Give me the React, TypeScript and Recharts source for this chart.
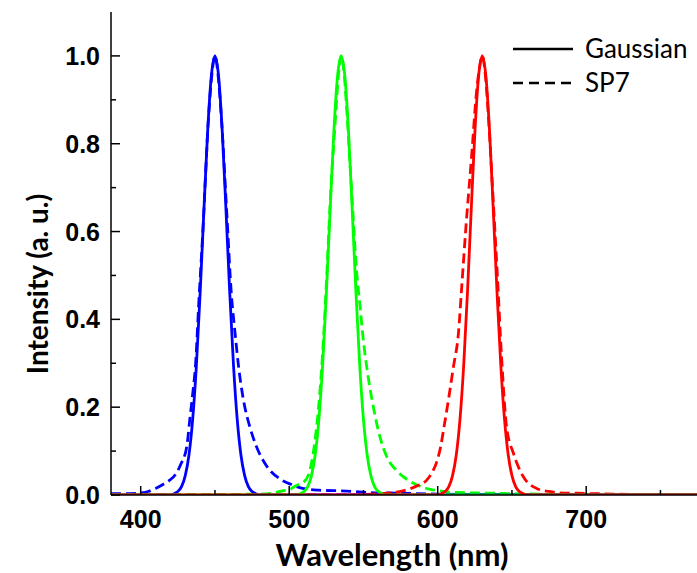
import React from "react";
import { LineChart, Line, XAxis, YAxis, Legend } from "recharts";

// wavelength (nm), intensity (a. u.) pairs
const blueGaussian: [number, number][] = [
  [380, 0], [420, 0], [422.5, 0.003], [425, 0.008], [427.5, 0.019], [430, 0.044],
  [432.5, 0.091], [435, 0.172], [437.5, 0.295], [440, 0.458], [442.5, 0.644],
  [445, 0.823], [447.5, 0.952], [450, 1], [452.5, 0.952], [455, 0.823],
  [457.5, 0.644], [460, 0.458], [462.5, 0.295], [465, 0.172], [467.5, 0.091],
  [470, 0.044], [472.5, 0.019], [475, 0.008], [477.5, 0.003], [480, 0], [780, 0],
];
const greenGaussian: [number, number][] = [
  [380, 0], [505, 0], [507.5, 0.003], [510, 0.008], [512.5, 0.019], [515, 0.044],
  [517.5, 0.091], [520, 0.172], [522.5, 0.295], [525, 0.458], [527.5, 0.644],
  [530, 0.823], [532.5, 0.952], [535, 1], [537.5, 0.952], [540, 0.823],
  [542.5, 0.644], [545, 0.458], [547.5, 0.295], [550, 0.172], [552.5, 0.091],
  [555, 0.044], [557.5, 0.019], [560, 0.008], [562.5, 0.003], [565, 0], [780, 0],
];
const redGaussian: [number, number][] = [
  [380, 0], [600, 0], [602.5, 0.003], [605, 0.008], [607.5, 0.019], [610, 0.044],
  [612.5, 0.091], [615, 0.172], [617.5, 0.295], [620, 0.458], [622.5, 0.644],
  [625, 0.823], [627.5, 0.952], [630, 1], [632.5, 0.952], [635, 0.823],
  [637.5, 0.644], [640, 0.458], [642.5, 0.295], [645, 0.172], [647.5, 0.091],
  [650, 0.044], [652.5, 0.019], [655, 0.008], [657.5, 0.003], [660, 0], [780, 0],
];

const blueSP7: [number, number][] = [
  [380, 0.003], [390, 0.003], [400, 0.005], [405, 0.008], [410, 0.015], [415, 0.024],
  [420, 0.035], [423, 0.045], [427, 0.07], [431, 0.11], [433, 0.17], [435, 0.23],
  [437, 0.3], [439, 0.43], [442, 0.61], [445.5, 0.85], [448, 0.96], [450, 1],
  [452, 0.96], [454.5, 0.85], [458, 0.64], [461, 0.46], [463.5, 0.37], [466, 0.29],
  [469, 0.22], [473.5, 0.155], [478, 0.11], [485, 0.065], [494, 0.036], [502, 0.023],
  [509, 0.015], [520, 0.011], [539, 0.009], [552, 0.006], [575, 0.004], [600, 0.002],
  [650, 0.001], [700, 0], [780, 0],
];
const greenSP7: [number, number][] = [
  [380, 0], [480, 0.002], [490, 0.005], [496, 0.01], [500, 0.012], [504, 0.02],
  [507, 0.025], [510, 0.03], [514, 0.057], [517.4, 0.125], [520.8, 0.24], [523, 0.35],
  [525.3, 0.5], [527.5, 0.66], [531, 0.85], [533, 0.95], [535, 1], [537, 0.96],
  [538.7, 0.88], [542, 0.695], [545.5, 0.505], [547.7, 0.43], [550, 0.35],
  [552.7, 0.28], [555.6, 0.22], [561.3, 0.13], [566, 0.085], [572, 0.057], [580, 0.034],
  [586, 0.023], [595, 0.013], [600, 0.01], [610, 0.006], [640, 0.004], [680, 0.001],
  [700, 0], [780, 0],
];
const redSP7: [number, number][] = [
  [380, 0], [540, 0], [560, 0.003], [575, 0.008], [582, 0.015], [587, 0.022],
  [592.6, 0.034], [596, 0.05], [599.3, 0.075], [602, 0.11], [604, 0.15], [607.2, 0.216],
  [610.5, 0.29], [614, 0.37], [616.1, 0.47], [619, 0.61], [622.8, 0.77], [626.2, 0.92],
  [628, 0.97], [630, 1], [632, 0.96], [634, 0.87], [637.4, 0.67], [640.1, 0.505],
  [643, 0.315], [646.4, 0.155], [651, 0.095], [657.6, 0.042], [666.6, 0.015],
  [675, 0.008], [682, 0.005], [694, 0.004], [720, 0.002], [750, 0], [780, 0],
];

const X_DOMAIN: [number, number] = [380, 780];
const Y_DOMAIN: [number, number] = [0, 1.1];
const X_TICKS = [400, 450, 500, 550, 600, 650, 700, 750];
const Y_TICKS = [0, 0.1, 0.2, 0.3, 0.4, 0.5, 0.6, 0.7, 0.8, 0.9, 1.0];

const BLUE = "#0000ff";
const GREEN = "#00ff00";
const RED = "#ff0000";
const DASH = "10 5";

const TICK_FONT = "'Liberation Sans', Arial, sans-serif";
const TITLE_FONT = "Lato, 'Open Sans', sans-serif";

const toRows = (pts: [number, number][]) => pts.map(([wl, v]) => ({ wl, v }));

const isMajorX = (v: number) => v % 100 === 0;
const isMajorY = (v: number) => Math.round(v * 10) % 2 === 0;

function XTick(props: any) {
  const { x, y, payload, top } = props;
  const major = isMajorX(payload.value);
  const len = major ? 9 : 5;
  return (
    <g>
      <line x1={x} x2={x} y1={y} y2={top ? y + len : y - len} stroke="#000" strokeWidth={1.5} />
      {!top && major && (
        <text x={x} y={y + 33} textAnchor="middle" fontFamily={TICK_FONT} fontWeight="bold" fontSize={25} fill="#000">
          {payload.value}
        </text>
      )}
    </g>
  );
}

function YTick(props: any) {
  const { x, y, payload, right } = props;
  const major = isMajorY(payload.value);
  const len = major ? 9 : 5;
  return (
    <g>
      <line x1={x} x2={right ? x - len : x + len} y1={y} y2={y} stroke="#000" strokeWidth={1.5} />
      {!right && major && (
        <text x={x - 11} y={y + 9} textAnchor="end" fontFamily={TICK_FONT} fontWeight="bold" fontSize={25} fill="#000">
          {Number(payload.value).toFixed(1)}
        </text>
      )}
    </g>
  );
}

function LegendBox() {
  return (
    <svg width={697} height={110} style={{ display: "block" }}>
      <line x1={513} x2={573} y1={49} y2={49} stroke="#000" strokeWidth={2.5} />
      <text x={585} y={58} fontFamily={TITLE_FONT} fontSize={26} fill="#000">Gaussian</text>
      <line x1={513} x2={573} y1={83} y2={83} stroke="#000" strokeWidth={2.5} strokeDasharray="10 6" />
      <text x={585} y={92} fontFamily={TITLE_FONT} fontSize={26} fill="#000">SP7</text>
    </svg>
  );
}

const series = [
  { key: "bSP7", data: blueSP7, color: BLUE, dashed: true },
  { key: "gSP7", data: greenSP7, color: GREEN, dashed: true },
  { key: "rSP7", data: redSP7, color: RED, dashed: true },
  { key: "bG", data: blueGaussian, color: BLUE, dashed: false },
  { key: "gG", data: greenGaussian, color: GREEN, dashed: false },
  { key: "rG", data: redGaussian, color: RED, dashed: false },
];

export default function App() {
  return (
    <div
      style={{
        position: "fixed",
        left: 0,
        top: 0,
        width: 697,
        height: 573,
        overflow: "hidden",
        background: "#fff",
      }}
    >
      <LineChart width={720} height={573} margin={{ top: 12, right: 15, bottom: 0, left: 0 }}>
        <XAxis
          xAxisId="b"
          type="number"
          dataKey="wl"
          domain={X_DOMAIN}
          ticks={X_TICKS}
          interval={0}
          allowDataOverflow
          orientation="bottom"
          height={78}
          stroke="#000"
          strokeWidth={1.5}
          tickLine={false}
          tickSize={0}
          tickMargin={0}
          tick={<XTick />}
          label={{
            content: () => (
              <text x={392} y={566} textAnchor="middle" fontFamily={TITLE_FONT} fontWeight="bold" fontSize={31} fill="#000">
                Wavelength (nm)
              </text>
            ),
          }}
        />
        <XAxis
          xAxisId="t"
          type="number"
          dataKey="wl"
          domain={X_DOMAIN}
          ticks={X_TICKS}
          interval={0}
          allowDataOverflow
          orientation="top"
          height={0}
          stroke="#000"
          strokeWidth={1.5}
          tickLine={false}
          tickSize={0}
          tickMargin={0}
          tick={<XTick top />}
        />
        <YAxis
          yAxisId="l"
          type="number"
          domain={Y_DOMAIN}
          ticks={Y_TICKS}
          interval={0}
          allowDataOverflow
          width={111}
          stroke="#000"
          strokeWidth={1.5}
          tickLine={false}
          tickSize={0}
          tickMargin={0}
          tick={<YTick />}
          label={{
            content: () => (
              <text
                x={48}
                y={284}
                transform="rotate(-90, 48, 284)"
                textAnchor="middle"
                fontFamily={TITLE_FONT}
                fontWeight="bold"
                fontSize={28}
                fill="#000"
              >
                Intensity (a. u.)
              </text>
            ),
          }}
        />
        <YAxis
          yAxisId="r"
          orientation="right"
          type="number"
          domain={Y_DOMAIN}
          ticks={Y_TICKS}
          interval={0}
          allowDataOverflow
          width={0}
          stroke="#000"
          strokeWidth={1.5}
          tickLine={false}
          tickSize={0}
          tickMargin={0}
          tick={<YTick right />}
        />
        <Legend
          layout="horizontal"
          verticalAlign="middle"
          align="center"
          content={() => <LegendBox />}
          wrapperStyle={{ position: "absolute", left: 0, top: 0, width: 697, height: 110 }}
        />
        {series.map((s) => (
          <Line
            key={s.key}
            xAxisId="b"
            yAxisId="l"
            data={toRows(s.data)}
            dataKey="v"
            type="monotone"
            stroke={s.color}
            strokeWidth={2.8}
            strokeDasharray={s.dashed ? DASH : undefined}
            dot={false}
            activeDot={false}
            isAnimationActive={false}
          />
        ))}
      </LineChart>
    </div>
  );
}
